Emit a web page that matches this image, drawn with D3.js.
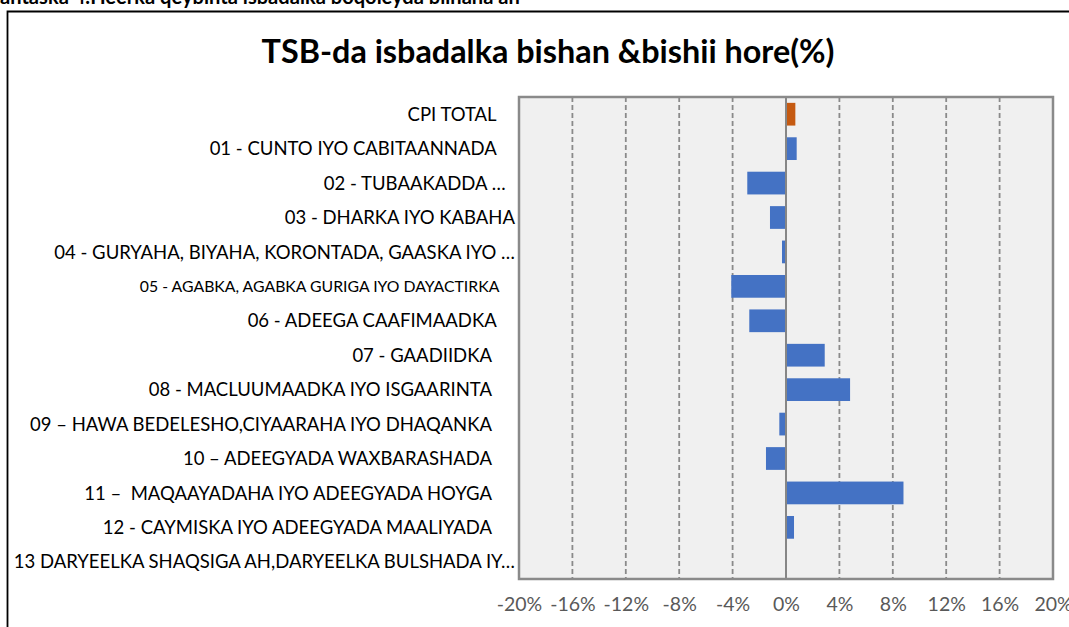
<!DOCTYPE html>
<html>
<head>
<meta charset="utf-8">
<script src="https://cdn.jsdelivr.net/npm/d3@7"></script>
<style>
  html, body { margin: 0; padding: 0; background: #fff; }
  svg { display: block; }
  text { font-family: Lato, "Open Sans", sans-serif; }
</style>
</head>
<body>
<svg id="chart" width="1069" height="627"></svg>
<script>
// ---- data ----
const headerText = "antaska 4.Heerka qeybinta isbadalka boqoleyda bilhaha ah";
const chartTitle = "TSB-da isbadalka bishan &bishii hore(%)";
const categories = [
  "CPI TOTAL    ",
  "01 - CUNTO IYO CABITAANNADA    ",
  "02 - TUBAAKADDA …  ",
  "03 - DHARKA IYO KABAHA",
  "04 - GURYAHA, BIYAHA, KORONTADA, GAASKA IYO …",
  "05 - AGABKA, AGABKA GURIGA IYO DAYACTIRKA    ",
  "06 - ADEEGA CAAFIMAADKA    ",
  "07 - GAADIIDKA     ",
  "08 - MACLUUMAADKA IYO ISGAARINTA     ",
  "09 – HAWA BEDELESHO,CIYAARAHA IYO DHAQANKA     ",
  "10 – ADEEGYADA WAXBARASHADA     ",
  "11 –  MAQAAYADAHA IYO ADEEGYADA HOYGA     ",
  "12 - CAYMISKA IYO ADEEGYADA MAALIYADA     ",
  "13 DARYEELKA SHAQSIGA AH,DARYEELKA BULSHADA IY…"
];
const values = [0.7, 0.8, -2.9, -1.2, -0.3, -4.1, -2.75, 2.9, 4.8, -0.5, -1.5, 8.8, 0.6, 0.0];
const smallLabelIndex = [5];
const tickValues = [-20, -16, -12, -8, -4, 0, 4, 8, 12, 16, 20];
const xDomain = [-20, 20];

// ---- layout ----
const svg = d3.select("#chart");
const plot = { left: 519, right: 1053, top: 97, bottom: 579 };

// outer frame (chart container, cropped)
svg.append("path")
  .attr("d", `M7.5,${628} L7.5,11.5 L1070,11.5`)
  .attr("fill", "none").attr("stroke", "#000").attr("stroke-width", 1.8);

// header text (cropped at top)
const header = svg.append("text")
  .attr("x", 0).attr("y", 4)
  .attr("font-size", 15).attr("font-weight", "bold").attr("fill", "#000")
  .text(headerText);
{
  const w = header.node().getComputedTextLength();
  header.attr("font-size", 15 * 520 / w);
}

// title
const title = svg.append("text")
  .attr("x", 548).attr("y", 63)
  .attr("text-anchor", "middle")
  .attr("font-weight", "bold").attr("fill", "#000")
  .attr("font-size", 30)
  .text(chartTitle);
{
  const w = title.node().getComputedTextLength();
  title.attr("font-size", 30 * 573 / w);
}

const x = d3.scaleLinear().domain(xDomain).range([plot.left, plot.right]);
const y = d3.scaleBand().domain(categories.map((d, i) => i))
  .range([plot.top, plot.bottom]).paddingInner(0.34).paddingOuter(0.17);

// plot background
svg.append("rect")
  .attr("x", plot.left).attr("y", plot.top)
  .attr("width", plot.right - plot.left).attr("height", plot.bottom - plot.top)
  .attr("fill", "#f0f0f0");

// gridlines
svg.append("g").selectAll("line")
  .data(tickValues.filter(t => t !== 0 && t !== xDomain[0] && t !== xDomain[1]))
  .join("line")
  .attr("x1", d => x(d)).attr("x2", d => x(d))
  .attr("y1", plot.top).attr("y2", plot.bottom)
  .attr("stroke", "#8a8a8a").attr("stroke-width", 1.8)
  .attr("stroke-dasharray", "5,3");

// bars
svg.append("g").selectAll("rect")
  .data(values)
  .join("rect")
  .attr("x", d => x(Math.min(0, d)))
  .attr("width", d => Math.abs(x(d) - x(0)))
  .attr("y", (d, i) => y(i))
  .attr("height", y.bandwidth())
  .attr("fill", (d, i) => i === 0 ? "#C55A11" : "#4472C4");

// zero line
svg.append("line")
  .attr("x1", x(0)).attr("x2", x(0))
  .attr("y1", plot.top).attr("y2", plot.bottom)
  .attr("stroke", "#868686").attr("stroke-width", 2);

// plot border
svg.append("rect")
  .attr("x", plot.left).attr("y", plot.top)
  .attr("width", plot.right - plot.left).attr("height", plot.bottom - plot.top)
  .attr("fill", "none").attr("stroke", "#8a8a8a").attr("stroke-width", 2.5);

// category labels
svg.append("g").selectAll("text")
  .data(categories)
  .join("text")
  .attr("x", 515)
  .attr("y", (d, i) => y(i) + y.bandwidth() / 2)
  .attr("dy", "0.36em")
  .attr("text-anchor", "end")
  .attr("font-size", (d, i) => smallLabelIndex.includes(i) ? 15.8 : 18.5)
  .attr("fill", "#000")
  .style("white-space", "pre")
  .text(d => d);

// x axis tick labels
const xAxis = d3.axisBottom(x).tickValues(tickValues).tickSize(0).tickPadding(0)
  .tickFormat(d => d + "%");
const gx = svg.append("g").attr("transform", `translate(0,${plot.bottom + 18})`).call(xAxis);
gx.select(".domain").remove();
gx.selectAll("text")
  .attr("font-family", "Lato, 'Open Sans', sans-serif")
  .attr("font-size", 19.5).attr("fill", "#595959");
</script>
</body>
</html>
